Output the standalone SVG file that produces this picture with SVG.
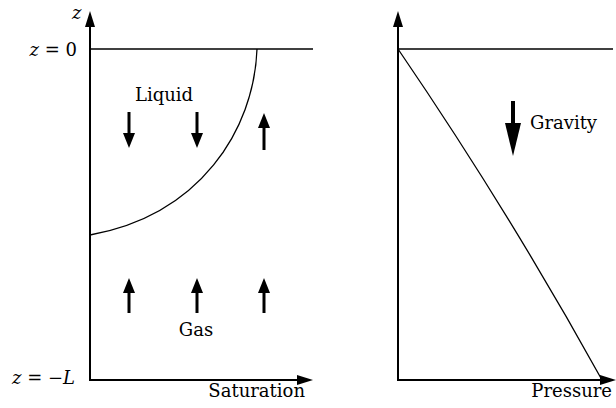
<svg xmlns="http://www.w3.org/2000/svg" width="616" height="408" viewBox="0 0 616 408">
<style>
.ax{stroke:#000;stroke-width:2;fill:none}
.thin{stroke:#000;stroke-width:1.3;fill:none}
.sh{stroke:#000;stroke-width:3;fill:none}
.hd{fill:#000}
.t{font-family:'DejaVu Serif','Liberation Serif',serif;font-size:18px;fill:#000}
.m{font-style:italic}
</style>
<rect width="616" height="408" fill="#fff"/>
<g id="connectors">
<line class="ax" x1="90" y1="381" x2="90" y2="24"/>
<polygon class="hd" points="90,11 85,27 95,27"/>
<line class="ax" x1="89" y1="380" x2="299" y2="380"/>
<polygon class="hd" points="313,380 297,375 297,385"/>
<line class="thin" x1="90" y1="49" x2="313" y2="49"/>
<path class="thin" d="M257,49 C254,130 200,215 90,235"/>
<line class="ax" x1="398" y1="381" x2="398" y2="24"/>
<polygon class="hd" points="398,11 393,27 403,27"/>
<line class="ax" x1="397" y1="380" x2="602" y2="380"/>
<polygon class="hd" points="616,380 600,375 600,385"/>
<line class="thin" x1="398" y1="49" x2="613" y2="49"/>
<path class="thin" d="M398,49 Q508,210 602,380"/>
</g>
<g id="liquid-arrows">
<line class="sh" x1="129" y1="112" x2="129" y2="135"/>
<polygon class="hd" points="123,133 135,133 129,148"/>
<line class="sh" x1="197" y1="112" x2="197" y2="135"/>
<polygon class="hd" points="191,133 203,133 197,148"/>
<line class="sh" x1="264" y1="150" x2="264" y2="126"/>
<polygon class="hd" points="258,128 270,128 264,113"/>
</g>
<g id="gas-arrows">
<line class="sh" x1="129" y1="313" x2="129" y2="290"/>
<polygon class="hd" points="123,293 135,293 129,278"/>
<line class="sh" x1="197" y1="313" x2="197" y2="290"/>
<polygon class="hd" points="191,293 203,293 197,278"/>
<line class="sh" x1="264" y1="313" x2="264" y2="290"/>
<polygon class="hd" points="258,293 270,293 264,278"/>
</g>
<g id="gravity">
<line x1="513" y1="101" x2="513" y2="126" stroke="#000" stroke-width="4"/>
<polygon class="hd" points="505,123 521,123 513,156"/>
<text class="t" x="530" y="129">Gravity</text>
</g>
<g id="labels">
<text class="t m" x="72" y="19">z</text>
<text class="t" x="77" y="56" text-anchor="end"><tspan class="m">z</tspan> = 0</text>
<text class="t" x="75" y="384" text-anchor="end"><tspan class="m">z</tspan> = −<tspan class="m">L</tspan></text>
<text class="t" x="164" y="101" text-anchor="middle">Liquid</text>
<text class="t" x="196" y="336" text-anchor="middle">Gas</text>
<text class="t" x="305" y="397" text-anchor="end">Saturation</text>
<text class="t" x="612" y="397" text-anchor="end">Pressure</text>
</g>
</svg>
